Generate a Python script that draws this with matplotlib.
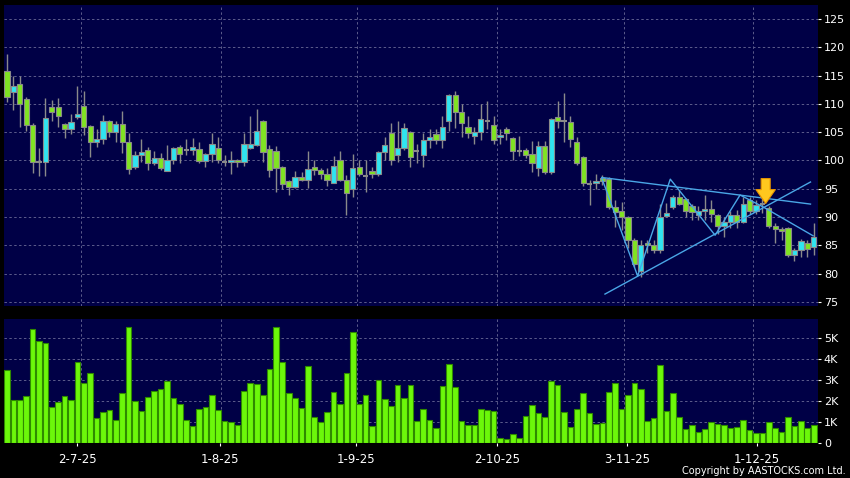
import matplotlib
matplotlib.use('Agg')
import matplotlib.pyplot as plt
import numpy as np

# daily candles, oldest first (price)
opens = [115.8, 112.1, 113.5, 110.8, 106.3, 99.8, 99.8, 109.4, 109.4, 106.4,
         105.5, 107.6, 109.6, 106.1, 103.2, 103.8, 107.0, 105.1, 106.4, 103.3,
         98.9, 100.9, 101.8, 99.5, 100.5, 98.2, 100.0, 102.3, 101.8, 101.8,
         102.1, 99.9, 101.1, 102.2, 99.7, 99.7, 100.0, 99.7, 102.2, 102.8,
         106.9, 102.0, 101.6, 98.8, 96.4, 95.4, 97.0, 96.6, 98.8, 98.3,
         97.6, 96.1, 100.1, 96.6, 94.9, 98.8, 97.3, 98.2, 97.6, 101.5,
         104.9, 101.0, 102.2, 105.0, 101.6, 100.9, 103.7, 104.7, 103.6, 106.9,
         111.5, 108.6, 106.0, 104.4, 105.0, 107.0, 106.2, 104.1, 105.5, 103.9,
         101.7, 101.8, 101.2, 98.6, 102.5, 97.9, 107.7, 107.0, 106.8, 103.3,
         100.6, 95.8, 96.0, 96.9, 96.7, 91.7, 91.1, 90.0, 86.0, 80.4,
         85.5, 85.1, 84.1, 90.2, 91.8, 93.6, 93.2, 92.0, 90.3, 91.1,
         91.4, 90.4, 88.4, 89.2, 90.4, 89.2, 93.0, 91.0, 92.3, 91.6,
         88.5, 87.9, 88.0, 83.3, 84.1, 85.4, 84.8]
highs = [118.8, 115.0, 114.9, 111.3, 106.7, 102.2, 111.1, 110.7, 111.1, 106.6,
         108.3, 113.2, 112.2, 106.3, 105.5, 108.0, 107.2, 107.0, 108.8, 104.8,
         101.6, 103.8, 102.4, 101.6, 101.4, 102.8, 102.4, 102.8, 103.8, 103.9,
         103.3, 101.3, 104.9, 104.1, 100.9, 101.6, 100.2, 104.9, 107.9, 109.1,
         107.1, 102.8, 102.5, 99.0, 96.6, 98.2, 98.0, 101.7, 100.1, 98.6,
         98.6, 100.8, 101.6, 97.5, 101.2, 100.1, 100.0, 98.8, 101.7, 104.1,
         106.7, 107.0, 106.7, 105.2, 103.0, 104.8, 105.5, 105.6, 107.9, 111.7,
         112.2, 110.0, 107.9, 106.0, 110.0, 110.5, 107.9, 105.5, 106.0, 104.1,
         104.3, 102.2, 103.5, 103.5, 103.5, 107.5, 110.5, 111.9, 107.8, 104.2,
         100.8, 96.6, 97.6, 97.4, 97.0, 93.0, 92.7, 90.2, 86.3, 86.0,
         86.0, 86.0, 92.4, 92.5, 93.9, 94.8, 93.4, 92.4, 92.0, 93.9,
         93.0, 90.6, 90.1, 91.0, 91.3, 93.6, 93.6, 93.0, 93.3, 91.9,
         89.0, 88.3, 88.2, 84.6, 86.2, 86.0, 88.9]
lows = [110.4, 108.9, 106.0, 105.3, 97.8, 97.3, 97.2, 107.0, 106.0, 104.0,
        104.6, 107.3, 104.5, 100.7, 102.3, 102.9, 104.2, 103.2, 101.3, 97.7,
        98.5, 99.8, 98.3, 99.2, 98.3, 98.1, 99.4, 99.6, 100.9, 101.0,
        99.5, 98.8, 99.8, 99.5, 99.0, 97.6, 98.9, 99.0, 102.0, 102.5,
        99.8, 97.0, 94.5, 95.0, 93.9, 95.2, 96.3, 95.1, 97.5, 96.7,
        95.5, 96.0, 96.3, 90.4, 93.6, 97.2, 94.5, 96.9, 97.3, 100.1,
        99.2, 99.8, 101.8, 98.8, 99.5, 98.8, 102.2, 103.0, 102.2, 105.3,
        105.8, 104.2, 103.9, 103.0, 103.6, 105.5, 103.0, 103.0, 103.7, 100.1,
        100.8, 100.5, 98.0, 97.3, 97.6, 97.6, 105.7, 103.3, 102.4, 99.2,
        95.5, 92.2, 95.0, 95.6, 91.5, 88.3, 87.7, 84.5, 81.2, 79.5,
        83.6, 83.6, 83.6, 90.0, 91.5, 92.1, 90.1, 89.5, 89.5, 89.5,
        89.2, 87.1, 86.5, 88.0, 88.0, 88.9, 90.5, 90.5, 90.7, 88.0,
        85.4, 86.0, 83.0, 82.2, 83.0, 83.0, 83.3]
closes = [111.3, 113.1, 109.9, 106.3, 99.7, 99.8, 107.5, 108.5, 107.9, 105.5,
          106.8, 108.3, 105.9, 103.2, 103.8, 107.0, 105.1, 106.4, 103.3, 98.5,
          100.9, 101.5, 99.5, 100.5, 98.6, 100.0, 102.2, 101.1, 101.8, 102.3,
          99.9, 101.1, 102.9, 100.1, 99.7, 100.0, 99.7, 102.9, 102.9, 105.3,
          101.5, 98.3, 98.6, 95.8, 95.4, 97.0, 96.6, 98.5, 98.3, 97.6,
          96.5, 99.1, 96.6, 94.2, 98.6, 97.6, 97.3, 97.6, 101.5, 102.7,
          100.1, 102.2, 105.7, 100.7, 101.6, 103.7, 104.1, 103.6, 105.9, 111.5,
          108.6, 106.7, 104.8, 105.0, 107.3, 107.0, 103.7, 104.5, 104.8, 101.7,
          101.7, 100.9, 99.6, 102.5, 97.9, 107.3, 107.0, 107.0, 103.8, 99.6,
          96.0, 95.8, 96.4, 96.4, 91.7, 90.9, 90.0, 86.0, 81.8, 85.1,
          85.1, 84.1, 90.1, 90.7, 93.6, 92.4, 91.1, 90.9, 91.1, 91.5,
          90.6, 88.4, 89.2, 90.4, 89.2, 92.4, 91.0, 92.1, 92.3, 88.5,
          87.9, 87.6, 83.3, 84.1, 85.8, 84.3, 86.5]
# volume in thousands
volume_k = [3.49, 2.05, 2.05, 2.25, 5.44, 4.87, 4.76, 1.75, 1.97, 2.25,
            2.05, 3.89, 2.89, 3.33, 1.21, 1.49, 1.59, 1.10, 2.40, 5.52,
            2.02, 1.54, 2.19, 2.48, 2.57, 2.97, 2.16, 1.86, 1.14, 0.84,
            1.63, 1.75, 2.30, 1.59, 1.05, 1.00, 0.90, 2.49, 2.87, 2.81,
            2.30, 3.52, 5.52, 3.89, 2.38, 2.14, 1.71, 3.70, 1.24, 1.00,
            1.52, 2.46, 1.87, 3.33, 5.29, 1.86, 2.30, 0.83, 3.02, 2.10,
            1.78, 2.76, 2.17, 2.79, 1.05, 1.63, 1.10, 0.73, 2.73, 3.76,
            2.71, 1.06, 0.89, 0.89, 1.62, 1.57, 1.56, 0.24, 0.22, 0.43,
            0.25, 1.29, 1.84, 1.44, 1.25, 2.97, 2.78, 1.48, 0.78, 1.63,
            2.40, 1.46, 0.92, 0.98, 2.44, 2.86, 1.63, 2.32, 2.90, 2.59,
            1.08, 1.19, 3.75, 1.56, 2.40, 1.27, 0.71, 0.87, 0.56, 0.67,
            1.02, 0.95, 0.87, 0.75, 0.78, 1.14, 0.65, 0.48, 0.48, 1.00,
            0.76, 0.57, 1.25, 0.83, 1.06, 0.76, 0.89]

date_labels = ['2-7-25', '1-8-25', '1-9-25', '2-10-25', '3-11-25', '1-12-25']
date_ticks = [11, 33.2, 54.5, 76.6, 96.9, 117.1]
grid_x = [11.5, 33.5, 54.6, 76.5, 96.4, 116.5]
price_ticks = [75, 80, 85, 90, 95, 100, 105, 110, 115, 120, 125]
vol_ticks = [0, 1, 2, 3, 4, 5]
vol_labels = ['0', '1K', '2K', '3K', '4K', '5K']

# drawn trend lines (bar index, price)
upper_x, upper_y = [92.9, 125.5], [97.0, 92.3]
lower_x, lower_y = [93.4, 125.5], [76.4, 96.2]
zigzag_x = [92.9, 98.5, 103.6, 110.6, 114.5, 118.1, 125.9]
zigzag_y = [96.9, 79.6, 96.7, 86.8, 93.9, 91.8, 86.7]
arrow_x, arrow_top, arrow_tip = 118.5, 96.8, 92.4

NAVY = '#000046'
GRID = '#5c5c8c'
UP = '#30e4f0'
DOWN = '#80e322'
EDGE = '#8a8a8a'
LINE = '#4aa6e6'

o = np.array(opens)
h = np.array(highs)
l = np.array(lows)
c = np.array(closes)
idx = np.arange(len(o))

fig = plt.figure(figsize=(8.5, 4.78), dpi=100, facecolor='black')
ax = fig.add_axes([0.0047, 0.3598, 0.9571, 0.6297], facecolor=NAVY)
axv = fig.add_axes([0.0047, 0.0722, 0.9571, 0.2604], facecolor=NAVY)

for a in (ax, axv):
    for s in a.spines.values():
        s.set_visible(False)
    a.set_xlim(-0.47, 126.6)
    a.yaxis.tick_right()
    a.tick_params(axis='y', colors='white', direction='out', length=2.5,
                  width=0.8, pad=2, labelsize=8)
    for gx in grid_x:
        a.axvline(gx, color=GRID, lw=0.7, dashes=(2.5, 2.5), zorder=1)

# price panel
ax.set_ylim(74.29, 127.47)
ax.set_yticks(price_ticks)
ax.set_xticks([])
for py in price_ticks:
    ax.axhline(py, color=GRID, lw=0.7, dashes=(2.5, 2.5), zorder=1)

ax.vlines(idx, l, h, color=EDGE, lw=1, zorder=2)
up = c > o
dn = c < o
flat = c == o
w = 0.82
ax.bar(idx[up], (c - o)[up], bottom=o[up], width=w, color=UP,
       edgecolor=EDGE, linewidth=0.8, zorder=3)
ax.bar(idx[dn], (o - c)[dn], bottom=c[dn], width=w, color=DOWN,
       edgecolor=EDGE, linewidth=0.8, zorder=3)
ax.hlines(c[flat], idx[flat] - w / 2, idx[flat] + w / 2, color=EDGE,
          lw=1.5, zorder=3)

ax.plot(upper_x, upper_y, color=LINE, lw=1, zorder=4)
ax.plot(lower_x, lower_y, color=LINE, lw=1, zorder=4)
ax.plot(zigzag_x, zigzag_y, color=LINE, lw=1, zorder=4)
ax.annotate('', xy=(arrow_x, arrow_tip), xytext=(arrow_x, arrow_top),
            arrowprops=dict(arrowstyle='simple,head_width=1.4,head_length=1.0,tail_width=0.65',
                            fc='#ffc81e', ec='#e89400', lw=0.8,
                            shrinkA=0, shrinkB=0), zorder=5)

# volume panel
axv.set_ylim(0, 5.92)
axv.set_yticks(vol_ticks)
axv.set_yticklabels(vol_labels)
for vy in vol_ticks[1:]:
    axv.axhline(vy, color=GRID, lw=0.7, dashes=(2.5, 2.5), zorder=1)
axv.bar(idx, volume_k, width=0.88, color='#6cf70a', edgecolor='#2f8a00',
        linewidth=0.8, zorder=3)
axv.set_xticks(date_ticks)
axv.set_xticklabels(date_labels)
axv.tick_params(axis='x', colors='white', direction='out', length=2.5,
                width=0.8, pad=4, labelsize=8.5)

fig.text(0.995, 0.0136, 'Copyright by AASTOCKS.com Ltd.', color='white',
         fontsize=7, ha='right', va='center')

fig.savefig('out.png', dpi=100, facecolor='black')
